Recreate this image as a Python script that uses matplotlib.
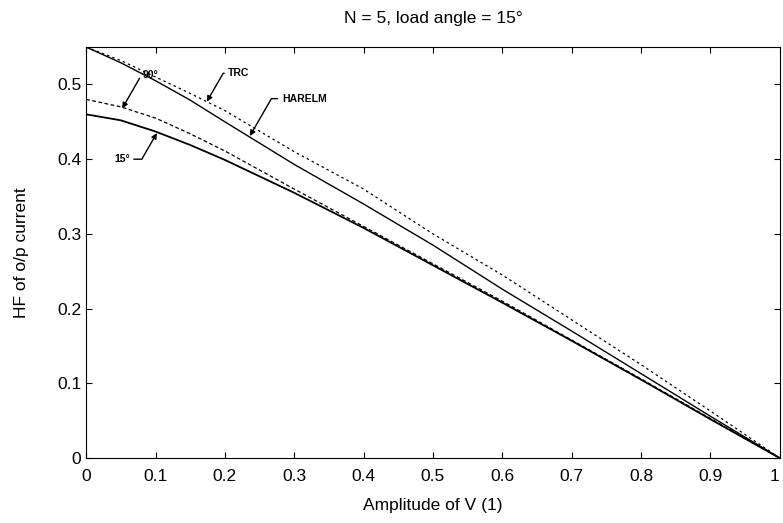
import numpy as np
import matplotlib
matplotlib.use('Agg')
import matplotlib.pyplot as plt

plt.rcParams['font.family'] = ['Liberation Sans', 'DejaVu Sans']

# data
x = [0, 0.05, 0.1, 0.15, 0.2, 0.3, 0.4, 0.5, 0.6, 0.7, 0.8, 0.9, 1.0]
trc = [0.55, 0.532, 0.51, 0.488, 0.465, 0.41, 0.36, 0.30, 0.245, 0.185, 0.125, 0.063, 0.0]
harelm = [0.55, 0.529, 0.505, 0.479, 0.45, 0.393, 0.34, 0.285, 0.226, 0.17, 0.113, 0.056, 0.0]
deg90 = [0.48, 0.470, 0.455, 0.434, 0.411, 0.36, 0.31, 0.26, 0.21, 0.158, 0.106, 0.053, 0.0]
deg15 = [0.46, 0.452, 0.437, 0.419, 0.399, 0.355, 0.308, 0.258, 0.208, 0.157, 0.105, 0.052, 0.0]

xticks = np.arange(0, 1.01, 0.1)
xticklabels = ['0', '0.1', '0.2', '0.3', '0.4', '0.5', '0.6', '0.7', '0.8', '0.9', '1']
yticks = np.arange(0, 0.51, 0.1)
yticklabels = ['0', '0.1', '0.2', '0.3', '0.4', '0.5']

fig = plt.figure(figsize=(7.83, 5.23), dpi=100)
ax = fig.add_axes([0.110, 0.124, 0.886, 0.786])

ax.plot(x, trc, color='k', lw=0.9, linestyle=(0, (2, 2.5)))
ax.plot(x, harelm, color='k', lw=1.0)
ax.plot(x, deg90, color='k', lw=0.9, linestyle=(0, (3, 2)))
ax.plot(x, deg15, color='k', lw=1.3)

ax.set_xlim(0, 1)
ax.set_ylim(0, 0.55)
ax.set_xticks(xticks)
ax.set_xticklabels(xticklabels)
ax.set_yticks(yticks)
ax.set_yticklabels(yticklabels)
ax.tick_params(direction='in', labelsize=12.5, length=4, right=True, top=True)
ax.tick_params(axis='x', pad=8)
ax.get_xticklabels()[-1].set_ha('right')

ax.set_title('N = 5, load angle = 15°', fontsize=12.5, pad=17)
ax.set_xlabel('Amplitude of V (1)', fontsize=12.5, labelpad=10)
ax.set_ylabel('HF of o/p current', fontsize=12.5, labelpad=20)

arr = dict(arrowstyle='-|>', color='k', lw=1.0, mutation_scale=8,
           connectionstyle='angle,angleA=0,angleB=60,rad=0', shrinkA=1, shrinkB=0)
lbl = dict(fontsize=7.5, fontweight='bold', va='center', ha='left', arrowprops=arr)
ax.annotate('TRC', xy=(0.174, 0.477), xytext=(0.205, 0.515), **lbl)
ax.annotate('HARELM', xy=(0.236, 0.431), xytext=(0.282, 0.481), **lbl)
ax.annotate('90°', xy=(0.052, 0.468), xytext=(0.082, 0.513), **lbl)
ax.annotate('15°', xy=(0.102, 0.435), xytext=(0.04, 0.40), **lbl)

fig.savefig('out.png', dpi=100)
